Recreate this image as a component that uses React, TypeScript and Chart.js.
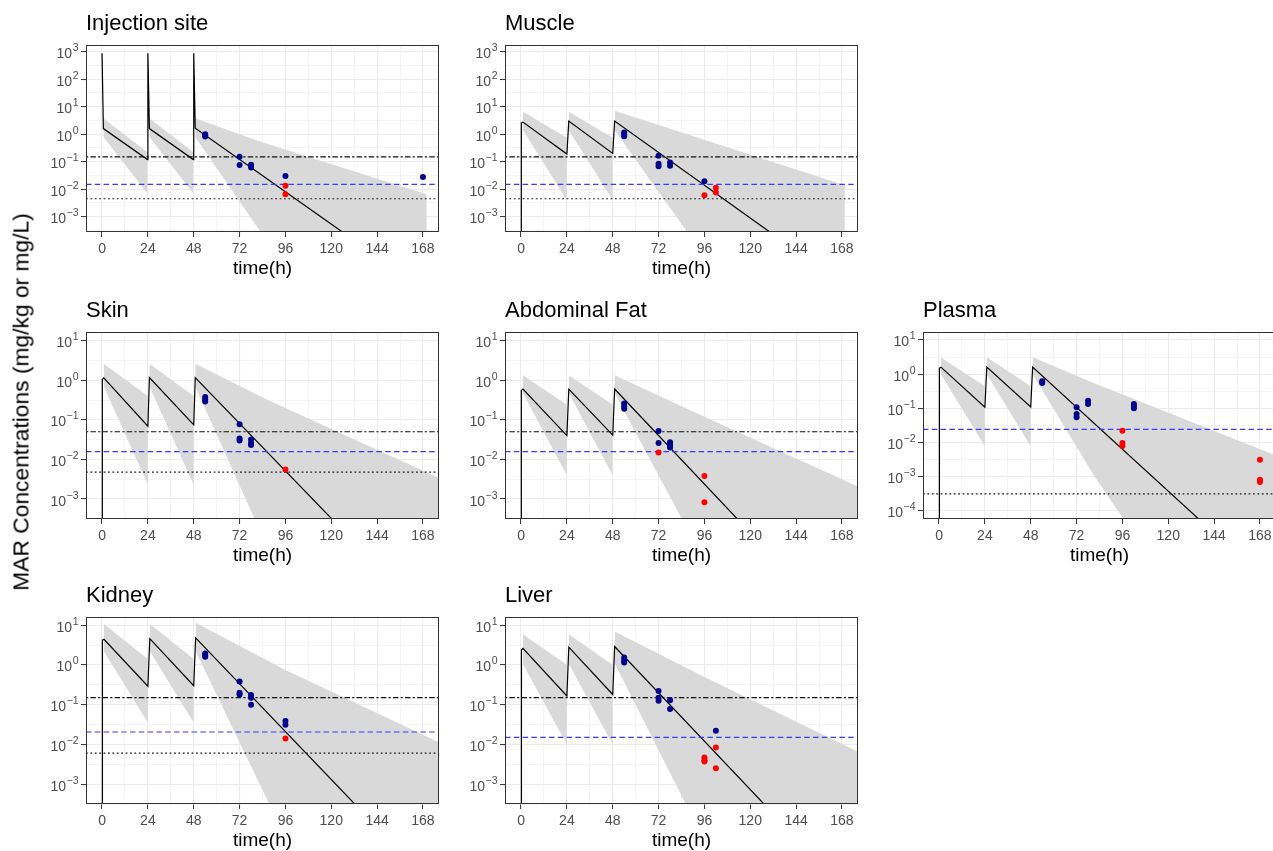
import React, { useEffect, useRef } from "react";
import { Chart, registerables } from "chart.js";
Chart.register(...registerables);

const FONT = '"Liberation Sans", Arial, Helvetica, sans-serif';

// ---------- shared axis definitions ----------
const X_MIN = -8.4;
const X_MAX = 176.4;
const xMajorTicks = [0, 24, 48, 72, 96, 120, 144, 168];
const xMinorTicks = [12, 36, 60, 84, 108, 132, 156];
const xTitle = "time(h)";
const yTitle = "MAR Concentrations (mg/kg or mg/L)";

// ---------- Injection site ----------
const injLineT = [0, 0.7, 23.8, 24.0, 24.8, 47.8, 48.0, 48.8, 168];
const injLineC = [870, 1.6, 0.12, 870, 1.6, 0.12, 870, 1.65, 2.4e-6];
const injBandT = [[0.7, 23.8], [24.8, 47.8], [48.8, 83, 170]];
const injBandHi = [[3.8, 0.22], [3.8, 0.22], [3.8, 0.53, 0.0065]];
const injBandLo = [[0.8, 0.007], [0.8, 0.007], [0.8, 2.8e-4, 1e-12]];
const injBlueT = [54, 54, 54, 72, 72, 78, 78, 96, 168];
const injBlueC = [1.0, 0.9, 0.82, 0.15, 0.076, 0.078, 0.062, 0.03, 0.028];
const injRedT = [96, 96];
const injRedC = [0.0135, 0.0065];
const injRef = [0.15, 0.015, 0.0045]; // dot-dash, blue dashed, dotted
const injYLog = [-3.556, 3.244];

// ---------- Muscle ----------
const musLineT = [0, 0.15, 1, 24, 25, 48, 49, 168];
const musLineC = [1e-9, 2.6, 2.75, 0.19, 3.0, 0.2, 3.0, 3.7e-6];
const musBandT = [[1, 24], [25, 48], [49, 87, 169.5]];
const musBandHi = [[6.6, 0.75], [6.6, 0.75], [7.2, 1.0, 0.014]];
const musBandLo = [[1.4, 0.004], [1.4, 0.004], [1.4, 2.8e-4, 1e-12]];
const musBlueT = [54, 54, 54, 72, 72, 72, 78, 78, 96];
const musBlueC = [1.15, 1.0, 0.85, 0.166, 0.085, 0.068, 0.093, 0.072, 0.0195];
const musRedT = [96, 102, 102];
const musRedC = [0.006, 0.0112, 0.0076];
const musRef = [0.15, 0.015, 0.0045];
const musYLog = [-3.556, 3.244];

// ---------- Skin ----------
const skinLineT = [0, 0.15, 0.9, 24, 24.8, 48, 48.8, 168];
const skinLineC = [1e-9, 1.05, 1.15, 0.069, 1.17, 0.075, 1.17, 1.3e-6];
const skinBandT = [[0.9, 24], [24.8, 48], [48.8, 86, 177]];
const skinBandHi = [[2.6, 0.4], [2.6, 0.4], [2.6, 0.33, 0.0033]];
const skinBandLo = [[0.7, 0.0023], [0.7, 0.0023], [0.7, 6.8e-5, 1e-12]];
const skinBlueT = [54, 54, 54, 72, 72, 72, 78, 78, 78];
const skinBlueC = [0.38, 0.33, 0.29, 0.077, 0.034, 0.03, 0.032, 0.026, 0.023];
const skinRedT = [96];
const skinRedC = [0.0056];
const skinRef = [0.05, 0.0158, 0.0048];
const skinYLog = [-3.505, 1.22];

// ---------- Abdominal Fat ----------
const fatLineT = [0, 0.15, 1, 24, 25, 48, 49, 168];
const fatLineC = [1e-9, 0.55, 0.6, 0.04, 0.6, 0.041, 0.6, 5e-7];
const fatBandT = [[1, 24], [25, 48], [49, 96, 140, 177]];
const fatBandHi = [[1.35, 0.24], [1.35, 0.24], [1.35, 0.12, 0.013, 0.002]];
const fatBandLo = [[0.47, 0.004], [0.47, 0.004], [0.47, 2.7e-5, 1e-9, 1e-12]];
const fatBlueT = [54, 54, 54, 72, 72, 78, 78, 78];
const fatBlueC = [0.26, 0.22, 0.19, 0.052, 0.026, 0.027, 0.023, 0.02];
const fatRedT = [72, 96, 96];
const fatRedC = [0.015, 0.0038, 0.00083];
const fatRef = [0.05, 0.0158, null];
const fatYLog = [-3.505, 1.22];

// ---------- Plasma ----------
const plaLineT = [0, 0.2, 1, 24, 25, 48, 49, 168];
const plaLineC = [1e-9, 1.5, 1.6, 0.107, 1.62, 0.11, 1.62, 1.3e-6];
const plaBandT = [[1, 24], [25, 48], [49, 81, 96.5, 178]];
const plaBandHi = [[3.1, 0.44], [3.1, 0.44], [3.1, 0.55, 0.25, 0.0038]];
const plaBandLo = [[1.0, 0.0077], [1.0, 0.0077], [1.0, 0.0011, 5.7e-5, 1e-12]];
const plaBlueT = [54, 54, 72, 72, 72, 78, 78, 102, 102, 102];
const plaBlueC = [0.62, 0.55, 0.107, 0.068, 0.055, 0.166, 0.134, 0.134, 0.118, 0.1];
const plaRedT = [96, 96, 96, 168, 168, 168];
const plaRedC = [0.022, 0.0096, 0.0078, 0.0031, 0.00081, 0.00069];
const plaRef = [null, 0.024, 0.00031];
const plaYLog = [-4.243, 1.234];

// ---------- Kidney ----------
const kidLineT = [0, 0.2, 1, 24, 25, 48, 49, 168];
const kidLineC = [1e-9, 4.2, 4.4, 0.29, 4.6, 0.3, 4.8, 5.1e-6];
const kidBandT = [[1, 24], [25, 48], [49, 96, 177]];
const kidBandHi = [[10.8, 1.4], [10.8, 1.4], [11.5, 0.75, 0.011]];
const kidBandLo = [[2.2, 0.035], [2.2, 0.035], [2.2, 4.5e-5, 1e-12]];
const kidBlueT = [54, 54, 54, 72, 72, 72, 78, 78, 78, 96, 96];
const kidBlueC = [1.95, 1.75, 1.6, 0.38, 0.2, 0.18, 0.174, 0.15, 0.1, 0.039, 0.031];
const kidRedT = [96];
const kidRedC = [0.014];
const kidRef = [0.15, 0.0205, 0.006];
const kidYLog = [-3.5, 1.206];

// ---------- Liver ----------
const livLineT = [0, 0.2, 1, 24, 25, 48, 49, 168];
const livLineC = [1e-9, 2.4, 2.6, 0.166, 2.8, 0.18, 2.9, 2.7e-6];
const livBandT = [[1, 24], [25, 48], [49, 96, 177]];
const livBandHi = [[5.9, 1.0], [5.9, 1.0], [6.9, 0.5, 0.0063]];
const livBandLo = [[1.05, 0.01], [1.05, 0.01], [1.1, 3.7e-5, 1e-12]];
const livBlueT = [54, 54, 54, 72, 72, 72, 78, 78, 102];
const livBlueC = [1.54, 1.3, 1.15, 0.22, 0.15, 0.126, 0.13, 0.078, 0.022];
const livRedT = [96, 96, 96, 102, 102];
const livRedC = [0.0047, 0.004, 0.0037, 0.0083, 0.0025];
const livRef = [0.15, 0.015, null];
const livYLog = [-3.5, 1.206];

// ---------- styling / layout ----------
const BAND_COLOR = "#D9D9D9";
const BLUE = "#00008B";
const RED = "#FF0000";
const REF_STYLES = [
  { color: "#111111", dash: [2.2, 2.2, 5.5, 2.2], width: 1.15 },
  { color: "#3B3BFF", dash: [5.5, 3.3], width: 1.15 },
  { color: "#1A1A1A", dash: [1.8, 2.6], width: 1.2 },
];
const COL_LEFT = [86, 505, 923];
const ROW_TOP = [45, 332, 617];
const PLOT_W = 353;
const PLOT_H = 187;
const AXIS_W = 60;
const TITLE_H = 45;
const XAXIS_H = 55;
const PAD_R = 10;

type PanelDef = {
  name: string;
  row: number;
  col: number;
  lineT: number[];
  lineC: number[];
  bandT: number[][];
  bandHi: number[][];
  bandLo: number[][];
  blueT: number[];
  blueC: number[];
  redT: number[];
  redC: number[];
  refs: (number | null)[];
  yLog: number[];
};

const panels: PanelDef[] = [
  { name: "Injection site", row: 0, col: 0, lineT: injLineT, lineC: injLineC, bandT: injBandT, bandHi: injBandHi, bandLo: injBandLo, blueT: injBlueT, blueC: injBlueC, redT: injRedT, redC: injRedC, refs: injRef, yLog: injYLog },
  { name: "Muscle", row: 0, col: 1, lineT: musLineT, lineC: musLineC, bandT: musBandT, bandHi: musBandHi, bandLo: musBandLo, blueT: musBlueT, blueC: musBlueC, redT: musRedT, redC: musRedC, refs: musRef, yLog: musYLog },
  { name: "Skin", row: 1, col: 0, lineT: skinLineT, lineC: skinLineC, bandT: skinBandT, bandHi: skinBandHi, bandLo: skinBandLo, blueT: skinBlueT, blueC: skinBlueC, redT: skinRedT, redC: skinRedC, refs: skinRef, yLog: skinYLog },
  { name: "Abdominal Fat", row: 1, col: 1, lineT: fatLineT, lineC: fatLineC, bandT: fatBandT, bandHi: fatBandHi, bandLo: fatBandLo, blueT: fatBlueT, blueC: fatBlueC, redT: fatRedT, redC: fatRedC, refs: fatRef, yLog: fatYLog },
  { name: "Plasma", row: 1, col: 2, lineT: plaLineT, lineC: plaLineC, bandT: plaBandT, bandHi: plaBandHi, bandLo: plaBandLo, blueT: plaBlueT, blueC: plaBlueC, redT: plaRedT, redC: plaRedC, refs: plaRef, yLog: plaYLog },
  { name: "Kidney", row: 2, col: 0, lineT: kidLineT, lineC: kidLineC, bandT: kidBandT, bandHi: kidBandHi, bandLo: kidBandLo, blueT: kidBlueT, blueC: kidBlueC, redT: kidRedT, redC: kidRedC, refs: kidRef, yLog: kidYLog },
  { name: "Liver", row: 2, col: 1, lineT: livLineT, lineC: livLineC, bandT: livBandT, bandHi: livBandHi, bandLo: livBandLo, blueT: livBlueT, blueC: livBlueC, redT: livRedT, redC: livRedC, refs: livRef, yLog: livYLog },
];

const zip = (t: number[], c: number[]) => t.map((x, i) => ({ x, y: c[i] }));

const BASE_SIZE = 14;
const EXP_SIZE = 10.5;

const logLabelPlugin = {
  id: "logLabels",
  afterDraw(chart: any) {
    const s = chart.scales.y;
    const ctx = chart.ctx;
    const area = chart.chartArea;
    ctx.save();
    ctx.fillStyle = "#4D4D4D";
    ctx.textBaseline = "alphabetic";
    ctx.textAlign = "left";
    for (const t of s.ticks) {
      if (!t.major) continue;
      const k = Math.round(Math.log10(t.value));
      const y = s.getPixelForValue(t.value);
      const exp = k < 0 ? "\u2212" + -k : String(k);
      ctx.font = `${EXP_SIZE}px ${FONT}`;
      const ew = ctx.measureText(exp).width;
      ctx.font = `${BASE_SIZE}px ${FONT}`;
      const bw = ctx.measureText("10").width;
      const xEnd = area.left - 5 - 2.5;
      const base = y + 6.5;
      ctx.fillText("10", xEnd - ew - bw - 0.5, base);
      ctx.font = `${EXP_SIZE}px ${FONT}`;
      ctx.fillText(exp, xEnd - ew, base - 7);
    }
    ctx.restore();
  },
};

const borderPlugin = {
  id: "panelBorder",
  afterDatasetsDraw(chart: any) {
    const { left, top, right, bottom } = chart.chartArea;
    const ctx = chart.ctx;
    ctx.save();
    ctx.strokeStyle = "#333333";
    ctx.lineWidth = 1;
    ctx.strokeRect(left + 0.5, top + 0.5, right - left - 1, bottom - top - 1);
    ctx.restore();
  },
};

const gridOpts = {
  color: "#EBEBEB",
  lineWidth: (c: any) => (c.tick && c.tick.major ? 1.1 : 0.55),
  drawTicks: true,
  tickLength: 5,
  tickWidth: 1,
  tickColor: (c: any) => (c.tick && c.tick.major ? "#333333" : "rgba(0,0,0,0)"),
};

function Panel({ def }: { def: PanelDef }) {
  const ref = useRef<HTMLCanvasElement>(null);
  useEffect(() => {
    const ds: any[] = [];
    ds.push({ data: zip(def.blueT, def.blueC), showLine: false, borderWidth: 0, pointRadius: 3, pointHoverRadius: 3, pointBackgroundColor: BLUE, pointBorderWidth: 0, order: 0 });
    ds.push({ data: zip(def.redT, def.redC), showLine: false, borderWidth: 0, pointRadius: 3, pointHoverRadius: 3, pointBackgroundColor: RED, pointBorderWidth: 0, order: 0 });
    def.refs.forEach((v, i) => {
      if (v == null) return;
      const st = REF_STYLES[i];
      ds.push({ data: [{ x: X_MIN, y: v }, { x: X_MAX, y: v }], borderColor: st.color, borderDash: st.dash, borderWidth: st.width, pointRadius: 0, fill: false, order: 1 });
    });
    ds.push({ data: zip(def.lineT, def.lineC), borderColor: "#000000", borderWidth: 1.2, pointRadius: 0, fill: false, tension: 0, order: 2 });
    def.bandT.forEach((ts, i) => {
      ds.push({ data: zip(ts, def.bandHi[i]), borderWidth: 0, borderColor: "rgba(0,0,0,0)", pointRadius: 0, fill: "+1", backgroundColor: BAND_COLOR, order: 3 });
      ds.push({ data: zip(ts, def.bandLo[i]), borderWidth: 0, borderColor: "rgba(0,0,0,0)", pointRadius: 0, fill: false, order: 3 });
    });

    const [lo, hi] = def.yLog;
    const chart = new Chart(ref.current as HTMLCanvasElement, {
      type: "line",
      data: { datasets: ds },
      options: {
        animation: false,
        responsive: true,
        maintainAspectRatio: false,
        events: [],
        layout: { padding: { left: 0, right: PAD_R, top: 0, bottom: 0 }, autoPadding: false },
        plugins: {
          legend: { display: false },
          tooltip: { enabled: false },
          title: {
            display: true,
            text: def.name,
            align: "start",
            fullSize: false,
            color: "#000000",
            font: { family: FONT, size: 22, weight: "normal", lineHeight: 1 },
            padding: { top: 13, bottom: 10 },
          },
        },
        scales: {
          x: {
            type: "linear",
            min: X_MIN,
            max: X_MAX,
            bounds: "data",
            afterBuildTicks: (s: any) => {
              s.ticks = [
                ...xMajorTicks.map((v) => ({ value: v, major: true })),
                ...xMinorTicks.map((v) => ({ value: v, major: false })),
              ].sort((a, b) => a.value - b.value);
            },
            afterFit: (s: any) => {
              s.height = XAXIS_H;
              s.paddingLeft = 0;
              s.paddingRight = 0;
            },
            ticks: {
              autoSkip: false,
              maxRotation: 0,
              minRotation: 0,
              padding: 3.5,
              color: "#4D4D4D",
              font: { family: FONT, size: 14, lineHeight: 1.2 },
              callback: (v: any, i: number, ticks: any[]) => (ticks[i] && ticks[i].major ? String(v) : ""),
            },
            grid: gridOpts,
            border: { display: false },
            title: {
              display: true,
              text: xTitle,
              color: "#000000",
              font: { family: FONT, size: 19, lineHeight: 1 },
              padding: { top: 0, bottom: 8.5 },
            },
          },
          y: {
            type: "logarithmic",
            min: Math.pow(10, lo),
            max: Math.pow(10, hi),
            bounds: "data",
            afterBuildTicks: (s: any) => {
              const out: any[] = [];
              for (let k = Math.floor(lo) - 1; k <= Math.ceil(hi) + 1; k++) {
                if (k >= lo && k <= hi) out.push({ value: Math.pow(10, k), major: true });
                if (k + 0.5 >= lo && k + 0.5 <= hi) out.push({ value: Math.pow(10, k + 0.5), major: false });
              }
              s.ticks = out;
            },
            afterFit: (s: any) => {
              s.width = AXIS_W;
              s.paddingTop = 0;
              s.paddingBottom = 0;
            },
            ticks: { autoSkip: false, padding: 0, callback: () => "" },
            grid: gridOpts,
            border: { display: false },
          },
        },
      } as any,
      plugins: [logLabelPlugin, borderPlugin],
    });
    return () => chart.destroy();
  }, []);
  return (
    <div
      style={{
        position: "absolute",
        left: COL_LEFT[def.col] - AXIS_W,
        top: ROW_TOP[def.row] - TITLE_H,
        width: AXIS_W + PLOT_W + PAD_R,
        height: TITLE_H + PLOT_H + XAXIS_H,
      }}
    >
      <canvas ref={ref} />
    </div>
  );
}

export default function App() {
  return (
    <div
      style={{
        position: "absolute",
        left: 0,
        top: 0,
        width: 1273,
        height: 851,
        overflow: "hidden",
        background: "#FFFFFF",
      }}
    >
      {panels.map((p) => (
        <Panel key={p.name} def={p} />
      ))}
      <div
        style={{
          position: "absolute",
          left: 21,
          top: 402,
          transform: "translate(-50%, -50%) rotate(-90deg)",
          whiteSpace: "nowrap",
          fontFamily: FONT,
          fontSize: 22.8,
          color: "#000000",
        }}
      >
        {yTitle}
      </div>
    </div>
  );
}
